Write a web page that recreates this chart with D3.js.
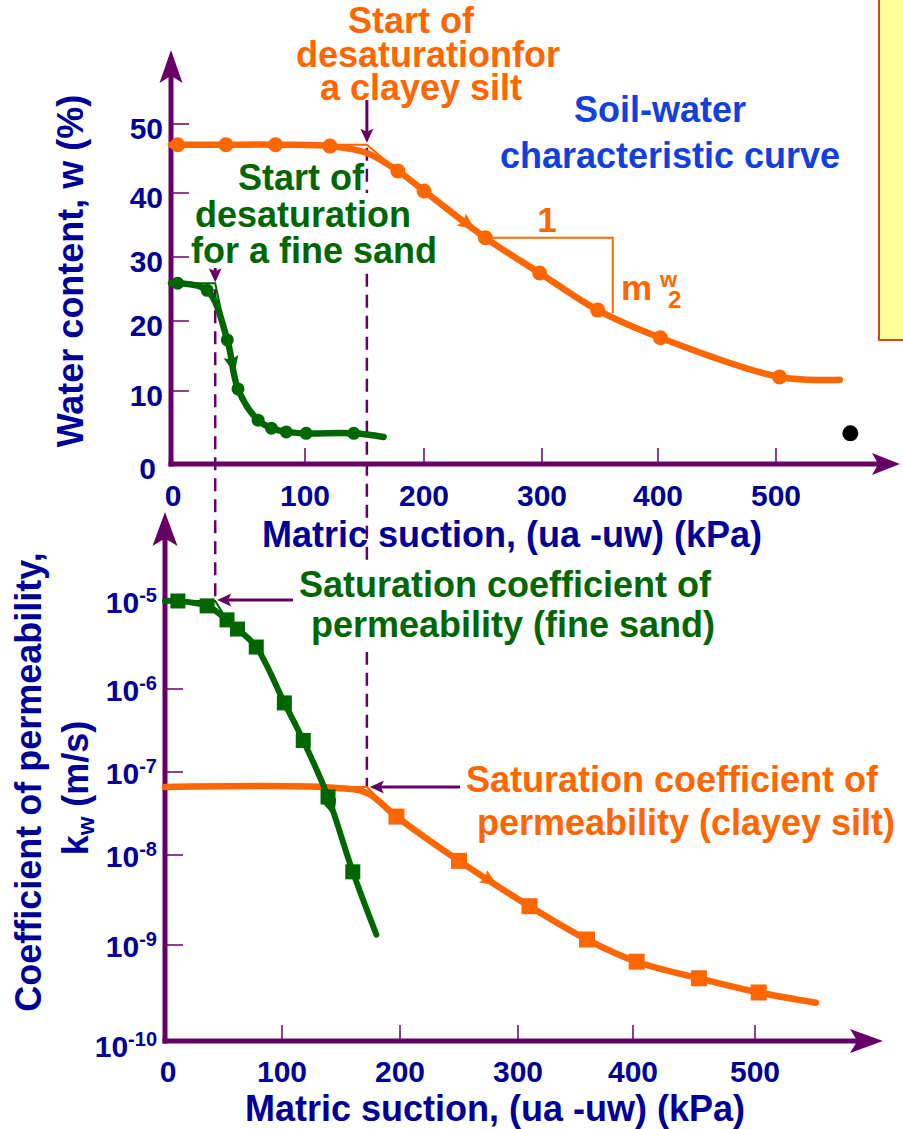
<!DOCTYPE html>
<html>
<head>
<meta charset="utf-8">
<script src="https://cdn.jsdelivr.net/npm/d3@7"></script>
<style>
  html, body { margin: 0; padding: 0; background: #ffffff; }
  svg { display: block; font-family: "Liberation Sans", Arial, Helvetica, sans-serif; font-weight: bold; }
</style>
</head>
<body>
<svg id="chart" width="903" height="1129"></svg>
<script>
// ---------------- data ----------------
const suctionTicks = [0, 100, 200, 300, 400, 500];          // kPa
const waterTicks = [0, 10, 20, 30, 40, 50];                 // %
const permTicks = [1e-10, 1e-9, 1e-8, 1e-7, 1e-6, 1e-5];    // m/s
const permExponents = [-10, -9, -8, -7, -6, -5];

// Soil-water characteristic curve, fine sand
const sandWaterSuction = [5, 27, 42, 50, 65, 75, 86, 101, 141];
const sandWaterContent = [25.9, 24.8, 17.3, 10.3, 6.0, 4.9, 4.4, 4.2, 4.2];
const sandWaterTrace = [[0, 25.9], [166, 3.7]];

// Soil-water characteristic curve, clayey silt
const siltWaterSuction = [5, 41, 78, 121, 178, 200, 252, 298, 348, 402, 503];
const siltWaterContent = [47.0, 47.0, 47.0, 46.8, 43.2, 40.3, 33.0, 27.5, 21.7, 17.6, 12.0];
const siltWaterTrace = [[0, 47.0], [152, 45.8], [554, 11.6]];

// Coefficient of permeability, fine sand
const sandPermSuction = [11, 36, 53, 62, 78, 102, 118, 139, 160];
const sandPermK = [1.0e-5, 8.8e-6, 6.1e-6, 4.8e-6, 3.0e-6, 6.8e-7, 2.4e-7, 5.0e-8, 6.5e-9];
const sandPermTrace = [[0, 1.0e-5], [180, 1.3e-9]];

// Coefficient of permeability, clayey silt
const siltPermSuction = [197, 250, 310, 360, 403, 454, 503];
const siltPermK = [2.9e-8, 8.6e-9, 2.7e-9, 1.15e-9, 6.7e-10, 4.5e-10, 3.2e-10];
const siltPermTrace = [[0, 6.6e-8], [140, 6.5e-8], [172, 5.6e-8], [550, 2.5e-10]];

// Air-entry (start of desaturation) suctions and saturated values
const airEntrySuction = { sand: 33, silt: 152 };
const saturatedWater = { sand: 25.9, silt: 47.0 };
const saturatedK = { sand: 1.0e-5, silt: 6.6e-8 };

// Direction markers along the curves (suction, kPa)
const flowMarks = { sandWater: 46, siltWater: 237, sandPerm: 142, siltPerm: 276 };

// Slope triangle on the clayey silt SWCC
const slopeRun = [252, 361];
const slopeRise = [33.0, 21.2];

// Loose point on the water-content plot
const loosePoint = [563, 4.2];

// ---------------- styling ----------------
const ORANGE = "#ff6600";
const GREEN = "#006600";
const PURPLE = "#660066";
const NAVY = "#000099";
const BLUE = "#1040e0";

const svg = d3.select("#chart");

// scales (axis graduations are slightly uneven, so piecewise domains are used)
const xTop = d3.scaleLinear().domain(suctionTicks).range([171, 305, 424, 542, 658, 776]);
const yTop = d3.scaleLinear().domain(waterTicks).range([464, 391, 321, 257, 193, 124]);
const xBot = d3.scaleLinear().domain(suctionTicks).range([165, 282, 400, 518, 633, 755]);
const yBot = d3.scaleLog().domain(permTicks).range([1041, 945, 855, 772, 689, 601]);

// ---------------- helpers ----------------
function arrowHead(g, x, y, angle, len, wid, color) {
  g.append("path")
    .attr("d", `M0,0 L${-len},${-wid / 2} L${-len * 0.78},0 L${-len},${wid / 2} Z`)
    .attr("transform", `translate(${x},${y}) rotate(${angle})`)
    .attr("fill", color);
}

function text(g, x, y, str, color, size, anchor = "middle") {
  return g.append("text")
    .attr("x", x).attr("y", y)
    .attr("fill", color)
    .attr("font-size", size)
    .attr("text-anchor", anchor)
    .text(str);
}

// multi-line label: lines = [[x, y, string], ...]
function block(g, lines, color, size) {
  const t = g.append("text").attr("fill", color).attr("font-size", size).attr("text-anchor", "middle");
  lines.forEach(([x, y, s]) => t.append("tspan").attr("x", x).attr("y", y).text(s));
  return t;
}

function pixelPoints(pairs, xs, ys) {
  return pairs.map(d => [xs(d[0]), ys(d[1])]);
}

function mergeSeries(xsArr, ysArr, trace) {
  const pts = xsArr.map((x, i) => [x, ysArr[i]]).concat(trace);
  return pts.sort((a, b) => a[0] - b[0]);
}

function flowMark(g, pts, px, color) {
  let i = 1;
  while (i < pts.length - 1 && pts[i][0] < px) i++;
  const a = pts[i - 1], b = pts[i];
  const t = (px - a[0]) / (b[0] - a[0]);
  const py = a[1] + t * (b[1] - a[1]);
  const ang = Math.atan2(b[1] - a[1], b[0] - a[0]) * 180 / Math.PI;
  g.append("path")
    .attr("d", "M9,0 L-8,-7.5 L-5,0 L-8,7.5 Z")
    .attr("transform", `translate(${px},${py}) rotate(${ang})`)
    .attr("fill", color);
}

const gBack = svg.append("g");
const gAxes = svg.append("g");
const gData = svg.append("g");
const gText = svg.append("g");

// ---------------- note panel at right edge ----------------
gBack.append("rect")
  .attr("x", 879).attr("y", -5).attr("width", 40).attr("height", 345)
  .attr("fill", "#ffff99").attr("stroke", "#cc4a1a").attr("stroke-width", 2);

// ---------------- dashed projection lines ----------------
const dash = gBack.append("g")
  .attr("stroke", PURPLE).attr("stroke-width", 2.5)
  .attr("stroke-dasharray", "13,8").attr("fill", "none");
dash.append("line")
  .attr("x1", xTop(airEntrySuction.silt)).attr("x2", xTop(airEntrySuction.silt))
  .attr("y1", yTop(saturatedWater.silt) + 3).attr("y2", yBot(saturatedK.silt));
dash.append("line")
  .attr("x1", xTop(airEntrySuction.sand)).attr("x2", xTop(airEntrySuction.sand))
  .attr("y1", yTop(saturatedWater.sand) + 6).attr("y2", yBot(saturatedK.sand));

// white text boxes behind the green labels
gBack.append("rect").attr("x", 192).attr("y", 193).attr("width", 216).attr("height", 80).attr("fill", "#fff");
gBack.append("rect").attr("x", 293).attr("y", 562).attr("width", 414).attr("height", 90).attr("fill", "#fff");

// ---------------- axes ----------------
function drawAxes(xs, ys, ticksY, xEnd, yEnd, arrowLenX, arrowLenY, arrowW) {
  const x0 = xs.range()[0];
  const y0 = ys.range()[0];
  const g = gAxes.append("g");
  g.append("line").attr("x1", x0).attr("x2", x0).attr("y1", y0 + 2.5).attr("y2", yEnd + arrowLenY * 0.7)
    .attr("stroke", PURPLE).attr("stroke-width", 5);
  g.append("line").attr("x1", x0 - 2.5).attr("x2", xEnd - arrowLenX * 0.7).attr("y1", y0).attr("y2", y0)
    .attr("stroke", PURPLE).attr("stroke-width", 5);
  arrowHead(g, x0, yEnd, -90, arrowLenY, arrowW, PURPLE);
  arrowHead(g, xEnd, y0, 0, arrowLenX, arrowW - 1, PURPLE);
  // tick marks
  suctionTicks.slice(1).forEach(t => {
    g.append("line").attr("x1", xs(t)).attr("x2", xs(t)).attr("y1", y0).attr("y2", y0 - 16)
      .attr("stroke", PURPLE).attr("stroke-width", 1.5);
  });
  ticksY.slice(1).forEach(t => {
    g.append("line").attr("x1", x0).attr("x2", x0 + 18).attr("y1", ys(t)).attr("y2", ys(t))
      .attr("stroke", PURPLE).attr("stroke-width", 1.5);
  });
  return g;
}

drawAxes(xTop, yTop, waterTicks, 900, 50, 28, 33, 23);
drawAxes(xBot, yBot, permTicks, 883, 512, 33, 34, 25);

// tick labels: water content
waterTicks.forEach(t => {
  text(gText, t === 0 ? 156 : 163, yTop(t) + 15, d3.format("d")(t), NAVY, 30, "end");
});
suctionTicks.forEach(t => {
  text(gText, xTop(t) + (t === 0 ? 2 : 0), yTop(0) + 42, d3.format("d")(t), NAVY, 30);
  text(gText, xBot(t) + (t === 0 ? 3 : 0), yBot(1e-10) + 41, d3.format("d")(t), NAVY, 30);
});
// tick labels: permeability (powers of ten)
permTicks.forEach((t, i) => {
  const lbl = gText.append("text")
    .attr("x", 157).attr("y", yBot(t) + (i === 0 ? 16 : 12))
    .attr("fill", NAVY).attr("font-size", 30).attr("text-anchor", "end");
  lbl.append("tspan").text("10");
  lbl.append("tspan").attr("font-size", 20).attr("dy", -11).text(String(permExponents[i]));
});

// axis titles
text(gText, 262, 547, "Matric suction, (ua -uw) (kPa)", NAVY, 36, "start");
text(gText, 245, 1121, "Matric suction, (ua -uw) (kPa)", NAVY, 36, "start");
gText.append("text")
  .attr("transform", "translate(83,271) rotate(-90)")
  .attr("fill", NAVY).attr("font-size", 36).attr("text-anchor", "middle")
  .text("Water content, w (%)");
gText.append("text")
  .attr("transform", "translate(41,782) rotate(-90)")
  .attr("fill", NAVY).attr("font-size", 36).attr("text-anchor", "middle")
  .text("Coefficient of permeability,");
const kTitle = gText.append("text")
  .attr("transform", "translate(88,788) rotate(-90)")
  .attr("fill", NAVY).attr("font-size", 36).attr("text-anchor", "middle");
kTitle.append("tspan").text("k");
kTitle.append("tspan").attr("font-size", 24).attr("dy", 6).text("w");
kTitle.append("tspan").attr("dy", -6).text(" (m/s)");

// ---------------- construction lines (bilinear idealisation) ----------------
const lineGen = d3.line();
const thin = (pts, color) => gData.append("path").attr("d", lineGen(pts))
  .attr("fill", "none").attr("stroke", color).attr("stroke-width", 2);

const siltKink = airEntrySuction.silt;
const sandKink = airEntrySuction.sand;
thin(pixelPoints([[0, saturatedWater.silt], [siltKink, saturatedWater.silt], [siltWaterSuction[4], siltWaterContent[4]]], xTop, yTop), ORANGE);
thin(pixelPoints([[0, saturatedWater.sand], [sandKink, saturatedWater.sand], [sandWaterSuction[2], sandWaterContent[2]]], xTop, yTop), GREEN);
// the same suctions projected onto the lower plot
const siltKinkBot = xBot.invert(xTop(siltKink));
const sandKinkBot = xBot.invert(xTop(sandKink));
thin(pixelPoints([[0, saturatedK.silt], [siltKinkBot, saturatedK.silt], [siltPermSuction[0], siltPermK[0]]], xBot, yBot), ORANGE);
thin(pixelPoints([[0, saturatedK.sand], [sandKinkBot, saturatedK.sand], [sandPermSuction[2], sandPermK[2]]], xBot, yBot), GREEN);

// ---------------- curves ----------------
const smooth = d3.line().curve(d3.curveCatmullRom.alpha(0.5));
function curve(pts, color, width) {
  gData.append("path").attr("d", smooth(pts))
    .attr("fill", "none").attr("stroke", color).attr("stroke-width", width)
    .attr("stroke-linecap", "round").attr("stroke-linejoin", "round");
}

const sandWaterPts = pixelPoints(mergeSeries(sandWaterSuction, sandWaterContent, sandWaterTrace), xTop, yTop);
const siltWaterPts = pixelPoints(mergeSeries(siltWaterSuction, siltWaterContent, siltWaterTrace), xTop, yTop);
const sandPermPts = pixelPoints(mergeSeries(sandPermSuction, sandPermK, sandPermTrace), xBot, yBot);
const siltPermPts = pixelPoints(mergeSeries(siltPermSuction, siltPermK, siltPermTrace), xBot, yBot);

curve(siltWaterPts, ORANGE, 6.5);
curve(sandWaterPts, GREEN, 6.5);
curve(siltPermPts, ORANGE, 6.5);
curve(sandPermPts, GREEN, 6);

// markers
gData.append("g").selectAll("circle").data(siltWaterSuction).join("circle")
  .attr("cx", d => xTop(d)).attr("cy", (d, i) => yTop(siltWaterContent[i])).attr("r", 7.5).attr("fill", ORANGE);
gData.append("g").selectAll("circle").data(sandWaterSuction).join("circle")
  .attr("cx", d => xTop(d)).attr("cy", (d, i) => yTop(sandWaterContent[i])).attr("r", 6.5).attr("fill", GREEN);
gData.append("g").selectAll("rect").data(siltPermSuction).join("rect")
  .attr("x", d => xBot(d) - 8).attr("y", (d, i) => yBot(siltPermK[i]) - 8)
  .attr("width", 16).attr("height", 16).attr("fill", ORANGE);
gData.append("g").selectAll("rect").data(sandPermSuction).join("rect")
  .attr("x", d => xBot(d) - 7.5).attr("y", (d, i) => yBot(sandPermK[i]) - 7.5)
  .attr("width", 15).attr("height", 15).attr("fill", GREEN);

// direction marks
flowMark(gData, siltWaterPts, xTop(flowMarks.siltWater), ORANGE);
flowMark(gData, sandWaterPts, xTop(flowMarks.sandWater), GREEN);
flowMark(gData, sandPermPts, xBot(flowMarks.sandPerm), GREEN);
flowMark(gData, siltPermPts, xBot(flowMarks.siltPerm), ORANGE);

// loose point
gData.append("circle").attr("cx", xTop(loosePoint[0])).attr("cy", yTop(loosePoint[1])).attr("r", 8).attr("fill", "#000");

// slope triangle
gData.append("path")
  .attr("d", lineGen([[xTop(slopeRun[0]), yTop(slopeRise[0])], [xTop(slopeRun[1]), yTop(slopeRise[0])], [xTop(slopeRun[1]), yTop(slopeRise[1])]]))
  .attr("fill", "none").attr("stroke", ORANGE).attr("stroke-width", 2);
text(gText, 547, 232, "1", ORANGE, 35);
const slopeLbl = gText.append("text").attr("fill", ORANGE);
slopeLbl.append("tspan").attr("x", 621).attr("y", 300).attr("font-size", 35).text("m");
slopeLbl.append("tspan").attr("x", 660).attr("y", 287).attr("font-size", 22).text("w");
slopeLbl.append("tspan").attr("x", 668).attr("y", 308).attr("font-size", 24).text("2");

// ---------------- pointer arrows ----------------
const gPtr = gData.append("g");
function pointer(x1, y1, x2, y2) {
  const ang = Math.atan2(y2 - y1, x2 - x1) * 180 / Math.PI;
  const len = Math.hypot(x2 - x1, y2 - y1);
  gPtr.append("line").attr("x1", x1).attr("y1", y1)
    .attr("x2", x1 + (x2 - x1) * (len - 8) / len).attr("y2", y1 + (y2 - y1) * (len - 8) / len)
    .attr("stroke", PURPLE).attr("stroke-width", 3);
  arrowHead(gPtr, x2, y2, ang, 14, 13, PURPLE);
}
pointer(xTop(airEntrySuction.silt), 100, xTop(airEntrySuction.silt), yTop(saturatedWater.silt) - 2);
pointer(xTop(airEntrySuction.sand), 268, xTop(airEntrySuction.sand), yTop(saturatedWater.sand) - 1);
pointer(293, yBot(saturatedK.sand) - 1, xTop(airEntrySuction.sand) + 2, yBot(saturatedK.sand) - 1);
pointer(460, yBot(saturatedK.silt), xTop(airEntrySuction.silt) + 3, yBot(saturatedK.silt));

// ---------------- annotations ----------------
block(gText, [[411, 33, "Start of"], [428, 67, "desaturationfor"], [421, 100, "a clayey silt"]], ORANGE, 36);
block(gText, [[301, 190, "Start of"], [303, 227, "desaturation"], [314, 263, "for a fine sand"]], GREEN, 36);
block(gText, [[660, 122, "Soil-water"], [670, 168, "characteristic curve"]], BLUE, 36);
block(gText, [[505, 597, "Saturation coefficient of"], [513, 637, "permeability (fine sand)"]], GREEN, 36);
block(gText, [[672, 792, "Saturation coefficient of"], [686, 835, "permeability (clayey silt)"]], ORANGE, 36);
</script>
</body>
</html>
